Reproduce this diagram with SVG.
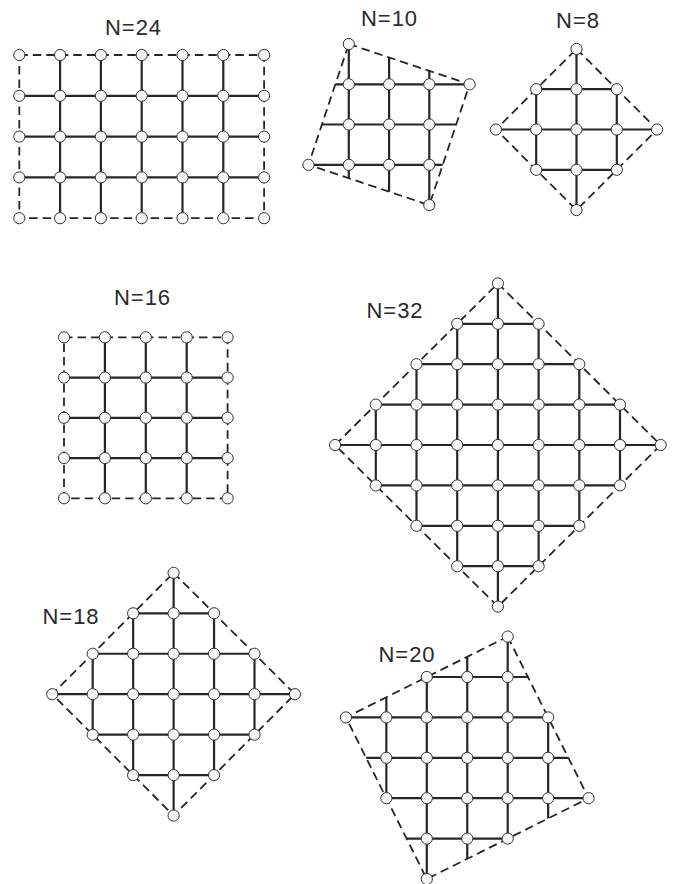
<svg xmlns="http://www.w3.org/2000/svg" xmlns:xlink="http://www.w3.org/1999/xlink" width="674" height="884" viewBox="0 0 674 884">
<style>
.lat{fill:none;stroke:#262626;stroke-width:2.2}
.bnd{fill:none;stroke:#262626;stroke-width:1.8;stroke-dasharray:8.5,5}
.lbl{font-family:"Liberation Sans",Arial,sans-serif;font-size:22px;fill:#2a2a2a;text-anchor:middle;letter-spacing:1px}
</style>
<defs>
<circle id="n" r="5.6" fill="#f7f7f7" stroke="#333" stroke-width="1"/>
<clipPath id="c10"><polygon points="348.8,44 469.6,84.3 429.3,205.1 308.5,164.8"/></clipPath>
<clipPath id="c8"><polygon points="576.5,48.9 657.1,129.5 576.5,210.1 495.9,129.5"/></clipPath>
<clipPath id="c32"><polygon points="497.9,283.4 660.7,445 497.9,606.6 335.1,445"/></clipPath>
<clipPath id="c18"><polygon points="173.6,572.85 294.95,694.2 173.6,815.55 52.25,694.2"/></clipPath>
<clipPath id="c20"><polygon points="507.7,636.6 588.6,798.2 426.8,879 345.9,717.4"/></clipPath>
</defs>
<rect width="674" height="884" fill="#fff"/>

<g id="connectors">
<path class="lat" d="M60.1 55V218.2M100.9 55V218.2M141.7 55V218.2M182.5 55V218.2M223.3 55V218.2M19.3 95.8H264.1M19.3 136.6H264.1M19.3 177.4H264.1"/>
<rect class="bnd" x="19.3" y="55" width="244.8" height="163.2"/>
<path class="lat" d="M104.9 337.3V498.3M145.8 337.3V498.3M186.7 337.3V498.3M64 377.55H227.6M64 417.8H227.6M64 458.05H227.6"/>
<rect class="bnd" x="64" y="337.3" width="163.6" height="161"/>
<path class="lat" clip-path="url(#c10)" d="M348.8 40V210M389.1 40V210M429.3 40V210M300 84.3H475M300 124.5H475M300 164.8H475"/>
<polygon class="bnd" points="348.8,44 469.6,84.3 429.3,205.1 308.5,164.8"/>
<path class="lat" clip-path="url(#c8)" d="M536.2 45V215M576.5 45V215M616.8 45V215M490 89.2H662M490 129.5H662M490 169.8H662"/>
<polygon class="bnd" points="576.5,48.9 657.1,129.5 576.5,210.1 495.9,129.5"/>
<path class="lat" clip-path="url(#c32)" d="M375.8 280V610M416.5 280V610M457.2 280V610M497.9 280V610M538.6 280V610M579.3 280V610M620 280V610M330 323.8H665M330 364.2H665M330 404.6H665M330 445H665M330 485.4H665M330 525.8H665M330 566.2H665"/>
<polygon class="bnd" points="497.9,283.4 660.7,445 497.9,606.6 335.1,445"/>
<path class="lat" clip-path="url(#c18)" d="M92.7 568V820M133.15 568V820M173.6 568V820M214.05 568V820M254.5 568V820M48 613.3H300M48 653.75H300M48 694.2H300M48 734.65H300M48 775.1H300"/>
<polygon class="bnd" points="173.6,572.85 294.95,694.2 173.6,815.55 52.25,694.2"/>
<path class="lat" clip-path="url(#c20)" d="M386.35 632V884M426.8 632V884M467.25 632V884M507.7 632V884M548.15 632V884M340 677H595M340 717.4H595M340 757.8H595M340 798.2H595M340 838.6H595"/>
<polygon class="bnd" points="507.7,636.6 588.6,798.2 426.8,879 345.9,717.4"/>
</g>

<g id="N24">
<text class="lbl" x="133.5" y="34.5">N=24</text>
<use href="#n" x="19.3" y="55"/><use href="#n" x="60.1" y="55"/><use href="#n" x="100.9" y="55"/><use href="#n" x="141.7" y="55"/><use href="#n" x="182.5" y="55"/><use href="#n" x="223.3" y="55"/><use href="#n" x="264.1" y="55"/>
<use href="#n" x="19.3" y="95.8"/><use href="#n" x="60.1" y="95.8"/><use href="#n" x="100.9" y="95.8"/><use href="#n" x="141.7" y="95.8"/><use href="#n" x="182.5" y="95.8"/><use href="#n" x="223.3" y="95.8"/><use href="#n" x="264.1" y="95.8"/>
<use href="#n" x="19.3" y="136.6"/><use href="#n" x="60.1" y="136.6"/><use href="#n" x="100.9" y="136.6"/><use href="#n" x="141.7" y="136.6"/><use href="#n" x="182.5" y="136.6"/><use href="#n" x="223.3" y="136.6"/><use href="#n" x="264.1" y="136.6"/>
<use href="#n" x="19.3" y="177.4"/><use href="#n" x="60.1" y="177.4"/><use href="#n" x="100.9" y="177.4"/><use href="#n" x="141.7" y="177.4"/><use href="#n" x="182.5" y="177.4"/><use href="#n" x="223.3" y="177.4"/><use href="#n" x="264.1" y="177.4"/>
<use href="#n" x="19.3" y="218.2"/><use href="#n" x="60.1" y="218.2"/><use href="#n" x="100.9" y="218.2"/><use href="#n" x="141.7" y="218.2"/><use href="#n" x="182.5" y="218.2"/><use href="#n" x="223.3" y="218.2"/><use href="#n" x="264.1" y="218.2"/>
</g>

<g id="N10">
<text class="lbl" x="389.5" y="26">N=10</text>
<use href="#n" x="348.8" y="44"/>
<use href="#n" x="348.8" y="84.3"/><use href="#n" x="389.1" y="84.3"/><use href="#n" x="429.3" y="84.3"/><use href="#n" x="469.6" y="84.3"/>
<use href="#n" x="348.8" y="124.5"/><use href="#n" x="389.1" y="124.5"/><use href="#n" x="429.3" y="124.5"/>
<use href="#n" x="308.5" y="164.8"/><use href="#n" x="348.8" y="164.8"/><use href="#n" x="389.1" y="164.8"/><use href="#n" x="429.3" y="164.8"/>
<use href="#n" x="429.3" y="205.1"/>
</g>

<g id="N8">
<text class="lbl" x="578" y="28">N=8</text>
<use href="#n" x="576.5" y="48.9"/>
<use href="#n" x="536.2" y="89.2"/><use href="#n" x="576.5" y="89.2"/><use href="#n" x="616.8" y="89.2"/>
<use href="#n" x="495.9" y="129.5"/><use href="#n" x="536.2" y="129.5"/><use href="#n" x="576.5" y="129.5"/><use href="#n" x="616.8" y="129.5"/><use href="#n" x="657.1" y="129.5"/>
<use href="#n" x="536.2" y="169.8"/><use href="#n" x="576.5" y="169.8"/><use href="#n" x="616.8" y="169.8"/>
<use href="#n" x="576.5" y="210.1"/>
</g>

<g id="N16">
<text class="lbl" x="142.5" y="305">N=16</text>
<use href="#n" x="64" y="337.3"/><use href="#n" x="104.9" y="337.3"/><use href="#n" x="145.8" y="337.3"/><use href="#n" x="186.7" y="337.3"/><use href="#n" x="227.6" y="337.3"/>
<use href="#n" x="64" y="377.55"/><use href="#n" x="104.9" y="377.55"/><use href="#n" x="145.8" y="377.55"/><use href="#n" x="186.7" y="377.55"/><use href="#n" x="227.6" y="377.55"/>
<use href="#n" x="64" y="417.8"/><use href="#n" x="104.9" y="417.8"/><use href="#n" x="145.8" y="417.8"/><use href="#n" x="186.7" y="417.8"/><use href="#n" x="227.6" y="417.8"/>
<use href="#n" x="64" y="458.05"/><use href="#n" x="104.9" y="458.05"/><use href="#n" x="145.8" y="458.05"/><use href="#n" x="186.7" y="458.05"/><use href="#n" x="227.6" y="458.05"/>
<use href="#n" x="64" y="498.3"/><use href="#n" x="104.9" y="498.3"/><use href="#n" x="145.8" y="498.3"/><use href="#n" x="186.7" y="498.3"/><use href="#n" x="227.6" y="498.3"/>
</g>

<g id="N32">
<text class="lbl" x="395" y="318.3">N=32</text>
<use href="#n" x="497.9" y="283.4"/>
<use href="#n" x="457.2" y="323.8"/><use href="#n" x="497.9" y="323.8"/><use href="#n" x="538.6" y="323.8"/>
<use href="#n" x="416.5" y="364.2"/><use href="#n" x="457.2" y="364.2"/><use href="#n" x="497.9" y="364.2"/><use href="#n" x="538.6" y="364.2"/><use href="#n" x="579.3" y="364.2"/>
<use href="#n" x="375.8" y="404.6"/><use href="#n" x="416.5" y="404.6"/><use href="#n" x="457.2" y="404.6"/><use href="#n" x="497.9" y="404.6"/><use href="#n" x="538.6" y="404.6"/><use href="#n" x="579.3" y="404.6"/><use href="#n" x="620" y="404.6"/>
<use href="#n" x="335.1" y="445"/><use href="#n" x="375.8" y="445"/><use href="#n" x="416.5" y="445"/><use href="#n" x="457.2" y="445"/><use href="#n" x="497.9" y="445"/><use href="#n" x="538.6" y="445"/><use href="#n" x="579.3" y="445"/><use href="#n" x="620" y="445"/><use href="#n" x="660.7" y="445"/>
<use href="#n" x="375.8" y="485.4"/><use href="#n" x="416.5" y="485.4"/><use href="#n" x="457.2" y="485.4"/><use href="#n" x="497.9" y="485.4"/><use href="#n" x="538.6" y="485.4"/><use href="#n" x="579.3" y="485.4"/><use href="#n" x="620" y="485.4"/>
<use href="#n" x="416.5" y="525.8"/><use href="#n" x="457.2" y="525.8"/><use href="#n" x="497.9" y="525.8"/><use href="#n" x="538.6" y="525.8"/><use href="#n" x="579.3" y="525.8"/>
<use href="#n" x="457.2" y="566.2"/><use href="#n" x="497.9" y="566.2"/><use href="#n" x="538.6" y="566.2"/>
<use href="#n" x="497.9" y="606.6"/>
</g>

<g id="N18">
<text class="lbl" x="71" y="624.3">N=18</text>
<use href="#n" x="173.6" y="572.85"/>
<use href="#n" x="133.15" y="613.3"/><use href="#n" x="173.6" y="613.3"/><use href="#n" x="214.05" y="613.3"/>
<use href="#n" x="92.7" y="653.75"/><use href="#n" x="133.15" y="653.75"/><use href="#n" x="173.6" y="653.75"/><use href="#n" x="214.05" y="653.75"/><use href="#n" x="254.5" y="653.75"/>
<use href="#n" x="52.25" y="694.2"/><use href="#n" x="92.7" y="694.2"/><use href="#n" x="133.15" y="694.2"/><use href="#n" x="173.6" y="694.2"/><use href="#n" x="214.05" y="694.2"/><use href="#n" x="254.5" y="694.2"/><use href="#n" x="294.95" y="694.2"/>
<use href="#n" x="92.7" y="734.65"/><use href="#n" x="133.15" y="734.65"/><use href="#n" x="173.6" y="734.65"/><use href="#n" x="214.05" y="734.65"/><use href="#n" x="254.5" y="734.65"/>
<use href="#n" x="133.15" y="775.1"/><use href="#n" x="173.6" y="775.1"/><use href="#n" x="214.05" y="775.1"/>
<use href="#n" x="173.6" y="815.55"/>
</g>

<g id="N20">
<text class="lbl" x="407" y="661.7">N=20</text>
<use href="#n" x="507.7" y="636.6"/>
<use href="#n" x="426.8" y="677"/><use href="#n" x="467.25" y="677"/><use href="#n" x="507.7" y="677"/>
<use href="#n" x="345.9" y="717.4"/><use href="#n" x="386.35" y="717.4"/><use href="#n" x="426.8" y="717.4"/><use href="#n" x="467.25" y="717.4"/><use href="#n" x="507.7" y="717.4"/><use href="#n" x="548.15" y="717.4"/>
<use href="#n" x="386.35" y="757.8"/><use href="#n" x="426.8" y="757.8"/><use href="#n" x="467.25" y="757.8"/><use href="#n" x="507.7" y="757.8"/><use href="#n" x="548.15" y="757.8"/>
<use href="#n" x="386.35" y="798.2"/><use href="#n" x="426.8" y="798.2"/><use href="#n" x="467.25" y="798.2"/><use href="#n" x="507.7" y="798.2"/><use href="#n" x="548.15" y="798.2"/><use href="#n" x="588.6" y="798.2"/>
<use href="#n" x="426.8" y="838.6"/><use href="#n" x="467.25" y="838.6"/><use href="#n" x="507.7" y="838.6"/>
<use href="#n" x="426.8" y="879"/>
</g>
</svg>
